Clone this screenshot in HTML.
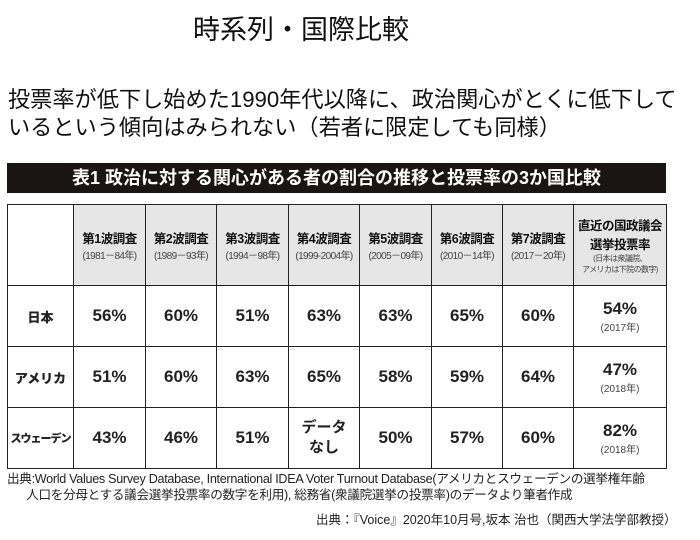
<!DOCTYPE html>
<html><head><meta charset="utf-8"><style>
body{margin:0;width:700px;height:540px;background:#fff;font-family:"Liberation Sans","Noto Sans CJK JP",sans-serif;color:#111;position:relative;overflow:hidden}
.abs{position:absolute;white-space:nowrap}
table{position:absolute;left:7px;top:204px;width:659px;border-collapse:collapse;table-layout:fixed}
td{border:1.5px solid #222;text-align:center;vertical-align:middle;padding:0}
.hd td{background:#e6e6e6;height:80px}
.hd td.blank{background:#fff}
.hd b{font-size:12.5px;display:block;letter-spacing:-0.5px}
.hd small{font-size:10px;color:#444;display:block;letter-spacing:-0.6px}
.row td{height:60px;font-size:17px;font-weight:bold;color:#222}
.row td.c{font-size:13px;font-weight:900}
.row small{display:block;font-size:10px;font-weight:normal;color:#444}
</style></head><body>
<div class="abs" style="left:193px;top:8px;font-size:27px">時系列・国際比較</div>
<div class="abs" style="left:8px;top:86px;font-size:22.2px;line-height:28px">投票率が低下し始めた1990年代以降に、政治関心がとくに低下して<br>いるという傾向はみられない（若者に限定しても同様）</div>
<div class="abs" style="left:7px;top:163px;width:659px;height:30px;background:#1a1414;color:#fff;font-size:18px;font-weight:bold;line-height:30px;text-align:center">表1 政治に対する関心がある者の割合の推移と投票率の3か国比較</div>
<table>
<colgroup><col style="width:66px"><col style="width:72px"><col style="width:71px"><col style="width:72px"><col style="width:71px"><col style="width:72px"><col style="width:71px"><col style="width:71px"><col style="width:93px"></colgroup>
<tr class="hd"><td class="blank"></td>
<td><b>第1波調査</b><small>(1981－84年)</small></td>
<td><b>第2波調査</b><small>(1989－93年)</small></td>
<td><b>第3波調査</b><small>(1994－98年)</small></td>
<td><b>第4波調査</b><small>(1999-2004年)</small></td>
<td><b>第5波調査</b><small>(2005－09年)</small></td>
<td><b>第6波調査</b><small>(2010－14年)</small></td>
<td><b>第7波調査</b><small>(2017－20年)</small></td>
<td><b>直近の国政議会<br>選挙投票率</b><small style="font-size:8px">(日本は衆議院、<br>アメリカは下院の数字)</small></td></tr>
<tr class="row"><td class="c">日本</td><td>56%</td><td>60%</td><td>51%</td><td>63%</td><td>63%</td><td>65%</td><td>60%</td><td>54%<small>(2017年)</small></td></tr>
<tr class="row"><td class="c">アメリカ</td><td>51%</td><td>60%</td><td>63%</td><td>65%</td><td>58%</td><td>59%</td><td>64%</td><td>47%<small>(2018年)</small></td></tr>
<tr class="row"><td class="c" style="font-size:11px;letter-spacing:-1px">スウェーデン</td><td>43%</td><td>46%</td><td>51%</td><td style="font-size:15px;line-height:20px">データ<br>なし</td><td>50%</td><td>57%</td><td>60%</td><td>82%<small>(2018年)</small></td></tr>
</table>
<div class="abs" style="left:7px;top:471px;font-size:12.6px;line-height:16px;color:#222;letter-spacing:-0.3px">出典:World Values Survey Database, International IDEA Voter Turnout Database(アメリカとスウェーデンの選挙権年齢<br>&nbsp;&nbsp;&nbsp;&nbsp;&nbsp;&nbsp;人口を分母とする議会選挙投票率の数字を利用), 総務省(衆議院選挙の投票率)のデータより筆者作成</div>
<div class="abs" style="left:316px;top:509px;font-size:12.5px;color:#222">出典：『Voice』2020年10月号,坂本 治也（関西大学法学部教授）</div>
</body></html>
